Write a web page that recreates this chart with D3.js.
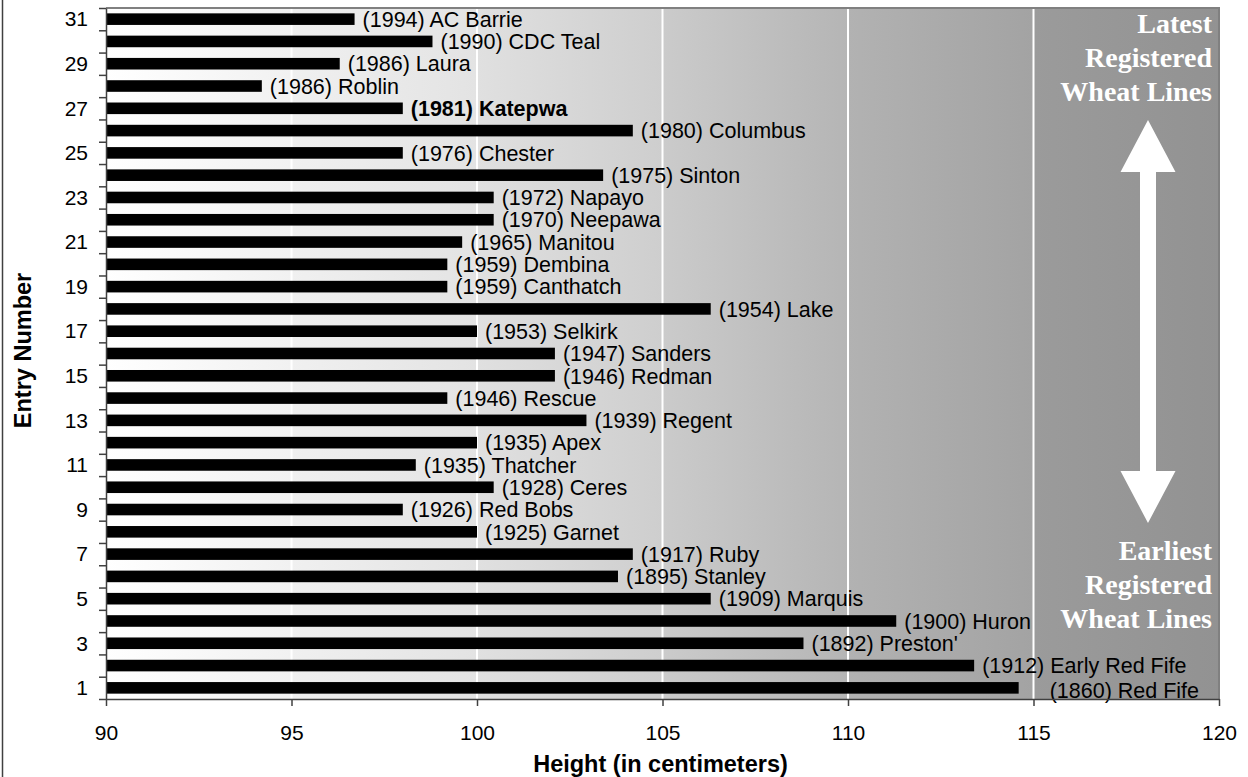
<!DOCTYPE html>
<html><head><meta charset="utf-8">
<script src="https://cdn.jsdelivr.net/npm/d3@7"></script>
<style>
html,body{margin:0;padding:0;background:#fff;}
svg{display:block;}
</style></head>
<body>
<svg id="chart" width="1248" height="777"></svg>
<script>
// ---- data ----
const entries = d3.range(1, 32);
const years = [1860,1912,1892,1900,1909,1895,1917,1925,1926,1928,1935,1935,1939,1946,1946,1947,1953,1954,1959,1959,1965,1970,1972,1975,1976,1980,1981,1986,1986,1990,1994];
const names = ["Red Fife","Early Red Fife","Preston'","Huron","Marquis","Stanley","Ruby","Garnet","Red Bobs","Ceres","Thatcher","Apex","Regent","Rescue","Redman","Sanders","Selkirk","Lake","Canthatch","Dembina","Manitou","Neepawa","Napayo","Sinton","Chester","Columbus","Katepwa","Roblin","Laura","CDC Teal","AC Barrie"];
const heights = [114.6,113.4,108.8,111.3,106.3,103.8,104.2,100.0,98.0,100.45,98.35,100.0,102.95,99.2,102.1,102.1,100.0,106.3,99.2,99.2,99.6,100.45,100.45,103.4,98.0,104.2,98.0,94.2,96.3,98.8,96.7];
const xTicks = [90,95,100,105,110,115,120];
const yLabelTicks = d3.range(1, 32, 2);
const highlighted = ["Katepwa"];
const topNote = ["Latest","Registered","Wheat Lines"];
const bottomNote = ["Earliest","Registered","Wheat Lines"];

(function(){
// ---- layout ----
const L = 106, R = 1219, T = 8, B = 699;
const svg = d3.select("#chart");
const x = d3.scaleLinear().domain([90,120]).range([L,R]);
const y = d3.scaleBand().domain(entries.slice().reverse()).range([T,B]).paddingInner(0.48).paddingOuter(0.24);
const yLin = d3.scaleLinear().domain([0.5, 31.5]).range([B, T]);

// background gradient (piecewise bands)
const stops = [[0,"#ffffff"],[1/6,"#f1f1f1"],[1/6,"#f0f0f0"],[2/6,"#e3e3e3"],[2/6,"#e0e0e0"],[3/6,"#cecece"],[3/6,"#cbcbcb"],[4/6,"#b5b5b5"],[4/6,"#b2b2b2"],[5/6,"#a3a3a3"],[5/6,"#9b9b9b"],[1,"#929292"]];
const defs = svg.append("defs");
const g = defs.append("linearGradient").attr("id","bg").attr("x1",0).attr("x2",1).attr("y1",0).attr("y2",0);
stops.forEach(s => g.append("stop").attr("offset", s[0]).attr("stop-color", s[1]));
svg.append("rect").attr("x",L).attr("y",T).attr("width",R-L).attr("height",B-T).attr("fill","url(#bg)");

// gridlines
svg.append("g").selectAll("line").data(xTicks.slice(1,-1)).join("line")
  .attr("x1", d=>x(d)).attr("x2", d=>x(d)).attr("y1", T).attr("y2", B)
  .attr("stroke","#ffffff").attr("stroke-width",2);

// plot border (top/right)
svg.append("path").attr("d", `M${L},${T}H${R}V${B}`).attr("fill","none").attr("stroke","#808080").attr("stroke-width",2);

// bars
const data = entries.map((e,i)=>({e, year:years[i], name:names[i], h:heights[i]}));
svg.append("g").selectAll("rect").data(data).join("rect")
  .attr("x", x(90)).attr("y", d=>y(d.e)).attr("width", d=>x(d.h)-x(90)).attr("height", y.bandwidth())
  .attr("fill","#000");

// labels
const nudge = {1:{dx:23, dy:2}};
svg.append("g").selectAll("text").data(data).join("text")
  .attr("x", d=>x(d.h)+8+((nudge[d.e]||{}).dx||0))
  .attr("y", d=>y(d.e)+y.bandwidth()/2+((nudge[d.e]||{}).dy||0))
  .attr("dy","0.36em")
  .attr("font-family","Liberation Sans, Arial, sans-serif")
  .attr("font-size",21.5)
  .attr("font-weight", d=>highlighted.includes(d.name)?"bold":"normal")
  .attr("fill","#000")
  .text(d=>`(${d.year}) ${d.name}`);

// x axis
const xa = svg.append("g").attr("transform",`translate(0,${B})`)
  .call(d3.axisBottom(x).tickValues(xTicks).tickSize(7).tickPadding(19).tickSizeOuter(0));
xa.select(".domain").attr("stroke","#404040").attr("stroke-width",1.5);
xa.selectAll(".tick line").attr("stroke","#404040").attr("stroke-width",1.5);
xa.selectAll("text").attr("font-family","Liberation Sans, Arial, sans-serif").attr("font-size",21).attr("fill","#000");

// y axis: tick marks between categories
const ya = svg.append("g").attr("transform",`translate(${L},0)`)
  .call(d3.axisLeft(yLin).tickValues(d3.range(0.5, 32, 1)).tickSize(7).tickFormat("").tickSizeOuter(0));
ya.select(".domain").attr("stroke","#404040").attr("stroke-width",1.5);
ya.selectAll(".tick line").attr("stroke","#404040").attr("stroke-width",1.5);
const yl = svg.append("g").attr("transform",`translate(${L},0)`)
  .call(d3.axisLeft(yLin).tickValues(yLabelTicks).tickSize(0).tickPadding(18));
yl.select(".domain").remove();
yl.selectAll("text").attr("font-family","Liberation Sans, Arial, sans-serif").attr("font-size",21).attr("fill","#000");

// axis titles
svg.append("text").attr("x",(L+R)/2 - 2).attr("y",772).attr("text-anchor","middle")
  .attr("font-family","Liberation Sans, Arial, sans-serif").attr("font-weight","bold").attr("font-size",23.5)
  .text("Height (in centimeters)");
svg.append("text").attr("transform",`translate(31,${(T+B)/2 - 3}) rotate(-90)`).attr("text-anchor","middle")
  .attr("font-family","Liberation Sans, Arial, sans-serif").attr("font-weight","bold").attr("font-size",23.5)
  .text("Entry Number");

// outer frame line at left
svg.append("line").attr("x1",2.5).attr("x2",2.5).attr("y1",0).attr("y2",777).attr("stroke","#404040").attr("stroke-width",1.5);

// annotation arrow
const ax = 1148, aTop = 120, aBot = 523, hh = 52, hw = 27.5, sw = 8;
svg.append("path").attr("fill","#fff")
  .attr("d", `M${ax},${aTop}L${ax+hw},${aTop+hh}H${ax+sw}V${aBot-hh}H${ax+hw}L${ax},${aBot}L${ax-hw},${aBot-hh}H${ax-sw}V${aTop+hh}H${ax-hw}Z`);

// annotation texts
function note(lines, y0){
  svg.append("g").selectAll("text").data(lines).join("text")
    .attr("x",1212).attr("y",(d,i)=>y0+i*34).attr("text-anchor","end")
    .attr("font-family","Liberation Serif, Times New Roman, serif").attr("font-weight","bold").attr("font-size",28)
    .attr("fill","#fff").text(d=>d);
}
note(topNote, 33);
note(bottomNote, 560);
})();
</script>
</body></html>
